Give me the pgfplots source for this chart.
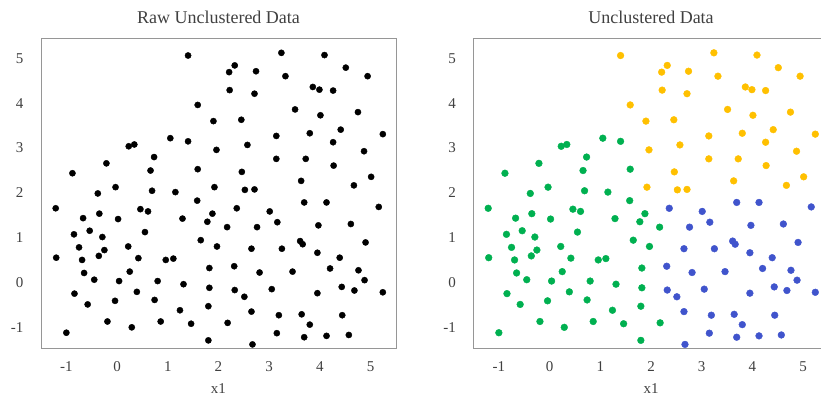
\documentclass[border=0pt]{standalone}
\usepackage{pgfplots}
\pgfplotsset{compat=1.18}
\usepackage{pgfplotstable}
\usepackage{fontspec}
\setmainfont{Liberation Serif}
\definecolor{cgold}{RGB}{255,192,0}
\definecolor{cgreen}{RGB}{0,176,80}
\definecolor{cblue}{RGB}{64,84,204}
\definecolor{framec}{RGB}{150,150,150}
\definecolor{textc}{RGB}{64,64,64}

\pgfplotstableread{
x y
1.40 5.06
1.59 3.96
1.90 3.60
1.96 2.96
1.92 2.13
3.24 5.12
4.09 5.07
2.32 4.84
2.21 4.69
2.74 4.71
3.32 4.60
4.51 4.79
4.94 4.60
2.22 4.29
2.71 4.21
3.86 4.36
3.99 4.30
4.26 4.28
3.51 3.86
4.01 3.73
4.75 3.80
2.45 3.63
3.14 3.27
3.80 3.33
4.41 3.41
5.24 3.31
2.57 3.07
4.26 3.13
4.87 2.93
3.14 2.76
3.72 2.76
4.27 2.61
2.46 2.47
5.01 2.36
3.63 2.27
4.67 2.17
2.52 2.07
2.71 2.08
}\tgold

\pgfplotstableread{
x y
1.05 3.22
1.40 3.15
0.34 3.08
0.23 3.04
0.73 2.80
-0.21 2.66
-0.88 2.44
0.66 2.50
1.59 2.53
-0.03 2.13
0.69 2.05
1.15 2.02
-0.38 1.99
1.58 1.83
-1.21 1.66
-0.67 1.44
-0.35 1.54
0.02 1.42
0.46 1.64
0.61 1.59
1.29 1.43
1.88 1.54
1.78 1.36
-0.85 1.08
-0.54 1.16
-0.29 1.02
0.55 1.13
1.65 0.95
1.97 0.81
-0.75 0.79
-0.25 0.73
0.22 0.81
-1.20 0.56
-0.69 0.51
-0.36 0.60
0.42 0.55
0.96 0.51
1.11 0.54
1.82 0.33
-0.65 0.22
0.25 0.25
-0.45 0.07
0.04 0.04
0.80 0.04
1.31 -0.03
1.82 -0.11
-0.84 -0.24
0.39 -0.20
-0.58 -0.48
-0.04 -0.40
0.74 -0.38
1.80 -0.52
1.24 -0.61
-0.19 -0.86
0.29 -0.99
0.86 -0.86
1.46 -0.91
-1.00 -1.11
1.80 -1.28
2.17 1.24
2.18 -0.89
}\tgreen

\pgfplotstableread{
x y
2.36 1.66
3.01 1.59
3.69 1.79
4.13 1.79
5.16 1.69
2.76 1.24
3.16 1.35
3.97 1.28
4.61 1.31
2.65 0.76
3.25 0.76
3.61 0.93
3.66 0.86
3.95 0.67
4.39 0.56
4.90 0.90
2.31 0.37
2.81 0.23
3.46 0.25
4.20 0.32
4.76 0.28
4.88 0.06
2.32 -0.16
2.51 -0.31
3.05 -0.14
3.95 -0.23
4.43 -0.09
4.68 -0.17
5.24 -0.21
2.65 -0.64
3.19 -0.72
3.64 -0.70
3.80 -0.93
4.44 -0.72
3.15 -1.12
3.69 -1.21
4.13 -1.18
4.57 -1.16
2.67 -1.37
}\tblue

\pgfplotsset{
  myax/.style={
    scale only axis, width=355bp, height=310bp,
    xmin=-1.5, xmax=5.5, ymin=-1.45, ymax=5.45,
    axis line style={draw=framec, line width=0.8bp},
    xtick={-1,0,1,2,3,4,5}, ytick={-1,0,1,2,3,4,5},
    major tick length=0pt,
    /pgf/number format/assume math mode=true,
    tick label style={font=\fontsize{15bp}{18bp}\selectfont, text=textc},
    xticklabel style={anchor=north, inner sep=0pt, yshift=-13.5bp},
    yticklabel style={anchor=east, inner sep=0pt, xshift=-17.5bp},
    title style={font=\fontsize{18bp}{21bp}\selectfont, text=textc, at={(0.5,1)}, anchor=base, inner sep=0pt, yshift=9bp},
    xlabel={x1},
    xlabel style={font=\fontsize{15bp}{18bp}\selectfont, text=textc, at={(0.5,0)}, anchor=base, inner sep=0pt, yshift=-45bp},
  }
}

\begin{document}
\begin{tikzpicture}
\useasboundingbox (0,0) rectangle (821bp,401bp);
\clip (0,0) rectangle (821bp,401bp);
\begin{axis}[myax, at={(41bp,53bp)}, anchor=south west, title={Raw Unclustered Data}]
\addplot[only marks, mark=*, mark size=3.1pt, color=black] table {\tgold};
\addplot[only marks, mark=*, mark size=3.1pt, color=black] table {\tgreen};
\addplot[only marks, mark=*, mark size=3.1pt, color=black] table {\tblue};
\end{axis}
\begin{axis}[myax, at={(473.5bp,53bp)}, anchor=south west, title={Unclustered Data}]
\addplot[only marks, mark=*, mark size=3.4pt, color=cgold] table {\tgold};
\addplot[only marks, mark=*, mark size=3.4pt, color=cgreen] table {\tgreen};
\addplot[only marks, mark=*, mark size=3.4pt, color=cblue] table {\tblue};
\end{axis}
\end{tikzpicture}
\end{document}
